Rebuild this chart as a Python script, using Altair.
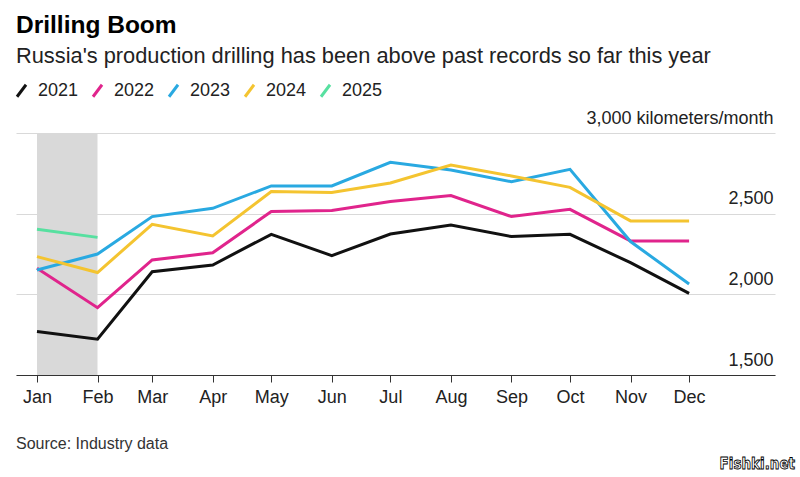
import altair as alt
import pandas as pd

# Monthly production drilling, kilometers per month
months = ["2021-01-01", "2021-02-01", "2021-03-01", "2021-04-01", "2021-05-01", "2021-06-01",
          "2021-07-01", "2021-08-01", "2021-09-01", "2021-10-01", "2021-11-01", "2021-12-01"]
years = ["2021", "2022", "2023", "2024", "2025"]
drilling_2021 = [1770, 1722, 2140, 2182, 2372, 2240, 2374, 2430, 2358, 2372, 2196, 2006]
drilling_2022 = [2161, 1917, 2213, 2258, 2513, 2519, 2575, 2612, 2482, 2527, 2331, 2331]
drilling_2023 = [2151, 2250, 2482, 2533, 2672, 2672, 2818, 2771, 2698, 2775, 2327, 2064]
drilling_2024 = [2234, 2135, 2434, 2362, 2637, 2631, 2690, 2802, 2734, 2663, 2455, 2455]
drilling_2025 = [2403, 2353]
colors = ["#111111", "#e0248c", "#29a9e1", "#f4c430", "#57e0a0"]

series = [drilling_2021, drilling_2022, drilling_2023, drilling_2024, drilling_2025]
rows = []
for yr, vals in zip(years, series):
    for m, v in zip(months, vals):
        rows.append({"month": m, "year": yr, "km": v})
df = pd.DataFrame(rows)

FONT = "Liberation Sans"
W, H = 759, 242

x_scale = alt.Scale(type="utc", domain=[alt.DateTime(year=2020, month=12, date=21, hours=6, utc=True),
                                        alt.DateTime(year=2022, month=1, date=14, utc=True)])
y_scale = alt.Scale(domain=[1500, 3000], nice=False, zero=False)

x_axis = alt.Axis(
    values=[alt.DateTime(year=2021, month=i, date=1, utc=True) for i in range(1, 13)],
    labelExpr="utcFormat(datum.value, '%b')", title=None, grid=False,
    domainColor="#333333", tickColor="#333333", tickSize=7, labelPadding=6,
    labelFontSize=18, labelFont=FONT, labelColor="#222222", labelFlush=False,
    labelOverlap=False,
)
y_axis = alt.Axis(
    orient="right", values=[1500, 2000, 2500, 3000], title=None, grid=True,
    domain=False, ticks=False, tickSize=0, labelPadding=-2, labelLimit=400,
    labelAlign="right", labelBaseline="alphabetic", labelOffset=-10,
    labelExpr="datum.value == 3000 ? '3,000 kilometers/month' : datum.label",
    labelFontSize=18, labelFont=FONT, labelColor="#222222", labelFlush=False,
    labelOverlap=False, gridColor="#d9d9d9", gridWidth=1,
)

# Shaded Jan-Feb window
band = alt.Chart(pd.DataFrame({"start": ["2021-01-01"], "end": ["2021-02-01"]})).mark_rect(
    color="#d9d9d9"
).encode(
    x=alt.X("start:T", scale=x_scale, axis=x_axis),
    x2="end:T",
    y=alt.datum(1500, scale=y_scale, axis=y_axis),
    y2=alt.datum(3000),
)

lines = alt.Chart(df).mark_line(strokeWidth=3).encode(
    x=alt.X("month:T", scale=x_scale),
    y=alt.Y("km:Q", scale=y_scale),
    color=alt.Color(
        "year:N",
        scale=alt.Scale(domain=years, range=colors),
        legend=alt.Legend(
            title=None, orient="none", direction="horizontal", legendX=-6, legendY=-54,
            symbolType="M-0.45,0.6L0.45,-0.6", symbolStrokeWidth=3, symbolSize=400,
            symbolFillColor="transparent", labelFont=FONT, labelFontSize=18,
            labelColor="#222222", labelOffset=5, columnPadding=7,
        ),
    ),
    order=alt.Order("year:N"),
)

def label(text, x, y, size, weight="normal", color="#222222", align="left", font=FONT):
    return alt.Chart(pd.DataFrame({"t": [text]})).mark_text(
        align=align, baseline="alphabetic", fontSize=size, fontWeight=weight,
        font=font, color=color,
    ).encode(text="t:N", x=alt.value(x), y=alt.value(y))

title = label("Drilling Boom", 0, -100, 24.5, weight="bold", color="#000000")
subtitle = label("Russia's production drilling has been above past records so far this year",
                 0, -70, 21.8)
source = label("Source: Industry data", 0, 316, 16, color="#333333")
mark = alt.Chart(pd.DataFrame({"t": ["Fishki.net"]})).mark_text(
    align="right", baseline="alphabetic", fontSize=15, fontWeight="bold",
    font="DejaVu Sans Condensed", color="#ffffff", stroke="#000000", strokeWidth=0.8,
).encode(text="t:N", x=alt.value(779), y=alt.value(336))

chart = alt.layer(band, lines, title, subtitle, source, mark).properties(
    width=W, height=H,
    autosize=alt.AutoSizeParams(type="none"),
    padding={"left": 16, "top": 133, "right": 25, "bottom": 102},
    background="#ffffff",
).configure_view(stroke=None)

chart.save("out.html", embed_options={"renderer": "svg", "actions": False})
